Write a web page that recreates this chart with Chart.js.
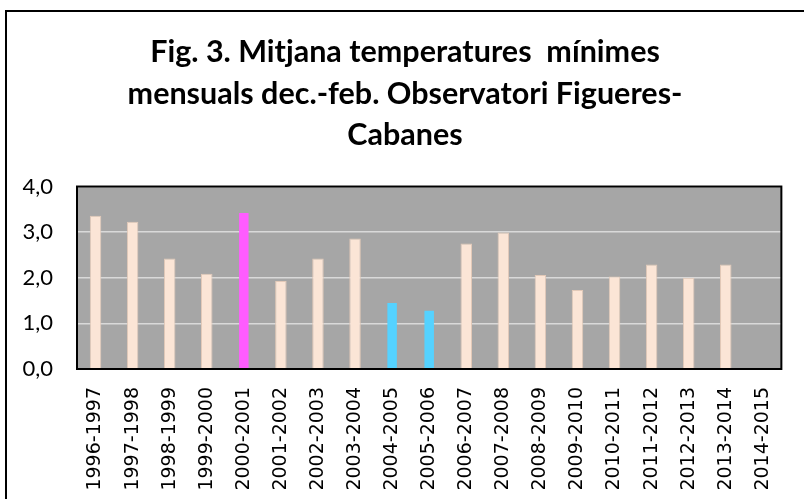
<!DOCTYPE html>
<html>
<head>
<meta charset="utf-8">
<script src="https://cdn.jsdelivr.net/npm/chart.js@4"></script>
<style>
  html, body { margin: 0; padding: 0; background: #ffffff; }
  #wrap { width: 804px; height: 499px; position: relative; }
</style>
</head>
<body>
<div id="wrap"><canvas id="c" width="804" height="499"></canvas></div>
<script>
// ---- data ----
const categories = ['1996-1997','1997-1998','1998-1999','1999-2000','2000-2001','2001-2002','2002-2003','2003-2004','2004-2005','2005-2006','2006-2007','2007-2008','2008-2009','2009-2010','2010-2011','2011-2012','2012-2013','2013-2014','2014-2015'];
const minTemps = [3.36, 3.23, 2.42, 2.09, 3.44, 1.93, 2.42, 2.86, 1.47, 1.30, 2.75, 2.99, 2.06, 1.73, 2.03, 2.29, 2.00, 2.29, null];
const warmestWinters = ['2000-2001'];
const coldestWinters = ['2004-2005','2005-2006'];
const yTicks = [0, 1, 2, 3, 4];
const titleLines = ['Fig. 3. Mitjana temperatures  mínimes', 'mensuals dec.-feb. Observatori Figueres-', 'Cabanes'];

// ---- styles ----
const PEACH = '#FBE5D6', MAGENTA = '#FF5CFF', CYAN = '#55D2FF';
const barColors = categories.map(c => warmestWinters.includes(c) ? MAGENTA : (coldestWinters.includes(c) ? CYAN : PEACH));
const barBorders = categories.map(c => (warmestWinters.includes(c) || coldestWinters.includes(c)) ? 'rgba(0,0,0,0)' : '#E2C9B8');

const framePlugin = {
  id: 'frame',
  beforeDraw(chart) {
    const { ctx, chartArea: a } = chart;
    ctx.save();
    ctx.fillStyle = '#A6A6A6';
    ctx.fillRect(a.left, a.top, a.right - a.left, a.bottom - a.top);
    ctx.strokeStyle = '#000';
    ctx.lineWidth = 2;
    ctx.beginPath();
    ctx.moveTo(6, 499);
    ctx.lineTo(6, 11);
    ctx.lineTo(804, 11);
    ctx.stroke();
    ctx.restore();
  },
  afterDatasetsDraw(chart) {
    const { ctx, chartArea: a } = chart;
    ctx.save();
    ctx.strokeStyle = '#000';
    ctx.lineWidth = 2;
    ctx.strokeRect(a.left, a.top, a.right - a.left, a.bottom - a.top);
    ctx.restore();
  }
};

new Chart(document.getElementById('c'), {
  type: 'bar',
  data: {
    labels: categories,
    datasets: [{
      data: minTemps,
      backgroundColor: barColors,
      borderColor: barBorders,
      borderWidth: 1,
      barPercentage: 0.31,
      categoryPercentage: 1.0
    }]
  },
  options: {
    responsive: false,
    animation: false,
    devicePixelRatio: 1,
    layout: { padding: { left: 6, right: 0, top: 10, bottom: 0 } },
    plugins: {
      legend: { display: false },
      tooltip: { enabled: false },
      title: {
        display: true,
        text: titleLines,
        color: '#000',
        font: { family: 'Lato', size: 30.5, weight: 'bold', lineHeight: 1.35 },
        padding: { top: 22, bottom: 31 }
      }
    },
    scales: {
      x: {
        grid: { display: false, drawTicks: false },
        border: { display: false },
        ticks: {
          color: '#000',
          font: { family: 'DejaVu Sans', size: 19 },
          minRotation: 90, maxRotation: 90,
          autoSkip: false,
          padding: 18
        },
        afterFit(scale) { scale.height = 130; }
      },
      y: {
        min: 0, max: 4,
        afterBuildTicks(scale) { scale.ticks = yTicks.map(v => ({ value: v })); },
        grid: { color: '#D9D9D9', lineWidth: 1.6, drawTicks: false },
        border: { display: false },
        ticks: {
          color: '#000',
          font: { family: 'Lato', size: 22 },
          padding: 24,
          callback: v => Number(v).toFixed(1).replace('.', ',')
        },
        afterFit(scale) { scale.width = 71; }
      },
      yRight: {
        position: 'right',
        min: 0, max: 4,
        grid: { display: false, drawTicks: false },
        border: { display: false },
        ticks: { display: false },
        afterFit(scale) { scale.width = 14; }
      }
    }
  },
  plugins: [framePlugin]
});
</script>
</body>
</html>
